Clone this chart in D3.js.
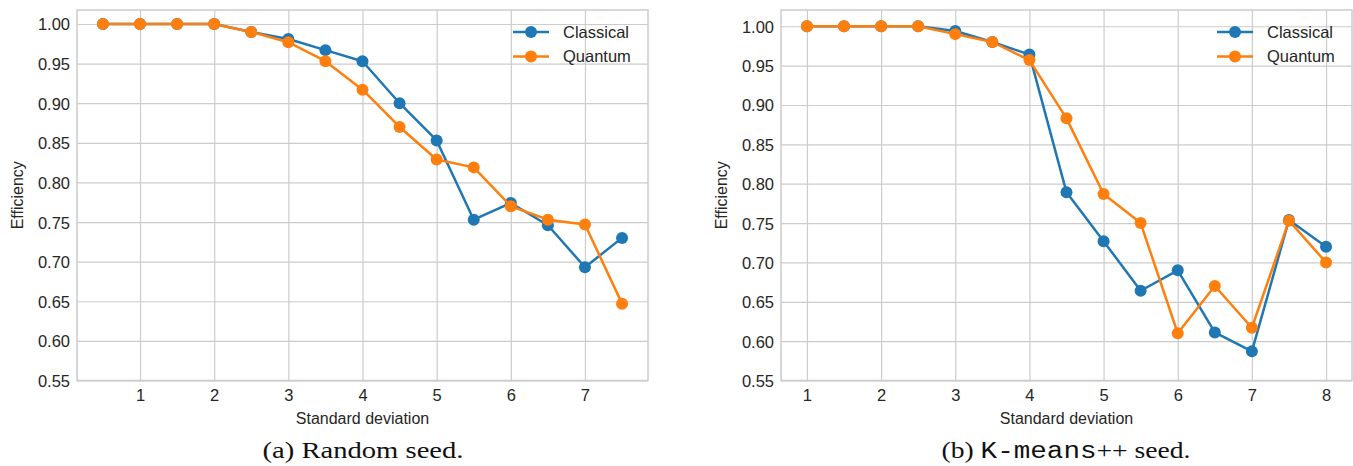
<!DOCTYPE html>
<html>
<head>
<meta charset="utf-8">
<script src="https://cdn.jsdelivr.net/npm/d3@7"></script>
<style>
body{margin:0;background:#fff;}
text{font-family:"Liberation Sans",Arial,sans-serif;fill:#262626;}
.caption text{font-family:"Liberation Serif","Times New Roman",serif;fill:#111;}
</style>
</head>
<body>
<svg id="fig" width="1353" height="466"></svg>
<script>
// x values (standard deviation)
var xRandom=[0.5,1,1.5,2,2.5,3,3.5,4,4.5,5,5.5,6,6.5,7,7.5];
var classicalRandom=[1,1,1,1,0.99,0.981,0.967,0.953,0.9,0.853,0.753,0.774,0.746,0.693,0.73];
var quantumRandom=[1,1,1,1,0.99,0.977,0.953,0.917,0.87,0.829,0.819,0.77,0.753,0.747,0.647];

var xKmeans=[1,1.5,2,2.5,3,3.5,4,4.5,5,5.5,6,6.5,7,7.5,8];
var classicalKmeans=[1,1,1,1,0.994,0.98,0.964,0.789,0.727,0.664,0.69,0.611,0.587,0.754,0.72];
var quantumKmeans=[1,1,1,1,0.99,0.98,0.957,0.883,0.787,0.75,0.61,0.67,0.617,0.753,0.7];

var yTicks=[0.55,0.60,0.65,0.70,0.75,0.80,0.85,0.90,0.95,1.00];
var seriesNames=["Classical","Quantum"];
var colors=["#1f77b4","#ff7f0e"];

var svg=d3.select("#fig");

function drawPanel(left,right,xs,ys,xTicks,yLabelX){
    var top=10, bottom=380.5;
    // matplotlib style margins: 5% of data range, bottom fixed at 0.55
    var xmin=d3.min(xs), xmax=d3.max(xs), pad=(xmax-xmin)*0.05;
    var ymin=d3.min(ys.flat()), ymax=d3.max(ys.flat());
    var x=d3.scaleLinear().domain([xmin-pad,xmax+pad]).range([left,right]);
    var y=d3.scaleLinear().domain([0.55,ymax+(ymax-ymin)*0.05]).range([bottom,top]);

    var g=svg.append("g");

    // grid
    g.append("g").attr("transform","translate(0,"+bottom+")")
        .call(d3.axisBottom(x).tickValues(xTicks).tickSize(-(bottom-top)).tickFormat(function(d){return d;}).tickPadding(9))
        .call(function(a){a.select(".domain").remove();
            a.selectAll(".tick line").attr("stroke","#cccccc").attr("stroke-width",1.2);
            a.selectAll(".tick text").style("font-size","16.5px").attr("fill","#262626");})
    g.append("g").attr("transform","translate("+left+",0)")
        .call(d3.axisLeft(y).tickValues(yTicks).tickSize(-(right-left)).tickFormat(d3.format(".2f")).tickPadding(7))
        .call(function(a){a.select(".domain").remove();
            a.selectAll(".tick line").attr("stroke","#cccccc").attr("stroke-width",1.2);
            a.selectAll(".tick text").style("font-size","16.5px").attr("fill","#262626").attr("dy","0.36em");})

    // frame
    g.append("rect").attr("x",left).attr("y",top).attr("width",right-left).attr("height",bottom-top)
        .attr("fill","none").attr("stroke","#cccccc").attr("stroke-width",1.5)

    // series
    var line=d3.line().x(function(d){return x(d[0]);}).y(function(d){return y(d[1]);});
    ys.forEach(function(vals,i){
        var pts=xs.map(function(v,j){return [v,vals[j]];});
        g.append("path").datum(pts).attr("d",line).attr("fill","none")
            .attr("stroke",colors[i]).attr("stroke-width",2.5).attr("stroke-linejoin","round")
        g.selectAll(".pt"+i).data(pts).enter().append("circle").attr("class","pt"+i)
            .attr("cx",function(d){return x(d[0]);}).attr("cy",function(d){return y(d[1]);})
            .attr("r",6).attr("fill",colors[i])
    })

    // legend
    seriesNames.forEach(function(name,i){
        var ly=32+i*24.5, lx=right-117;
        g.append("line").attr("x1",lx-18).attr("x2",lx+18).attr("y1",ly).attr("y2",ly)
            .attr("stroke",colors[i]).attr("stroke-width",2.5)
        g.append("circle").attr("cx",lx).attr("cy",ly).attr("r",6).attr("fill",colors[i])
        g.append("text").attr("x",lx+32).attr("y",ly).attr("dy","0.36em").style("font-size","16.5px").text(name)
    })

    // axis labels
    g.append("text").attr("x",(left+right)/2).attr("y",424).attr("text-anchor","middle")
        .style("font-size","16px").text("Standard deviation")
    g.append("text").attr("transform","translate("+yLabelX+","+((top+bottom)/2)+") rotate(-90)")
        .attr("text-anchor","middle").style("font-size","16px").text("Efficiency")
}

drawPanel(77,648,xRandom,[classicalRandom,quantumRandom],[1,2,3,4,5,6,7],23);
drawPanel(781,1352,xKmeans,[classicalKmeans,quantumKmeans],[1,2,3,4,5,6,7,8],727);

// captions
var cap=svg.append("g").attr("class","caption");
cap.append("text").attr("x",363).attr("y",458).attr("text-anchor","middle")
    .style("font-size","23px").attr("textLength",201).attr("lengthAdjust","spacingAndGlyphs")
    .text("(a) Random seed.")
var capB=cap.append("text").attr("x",1066).attr("y",458).attr("text-anchor","middle")
    .style("font-size","23px").attr("textLength",249).attr("lengthAdjust","spacingAndGlyphs")
capB.append("tspan").text("(b) ")
capB.append("tspan").style("font-family","'Liberation Mono','DejaVu Sans Mono',monospace").text("K-means")
capB.append("tspan").text("++ seed.")
</script>
</body>
</html>
